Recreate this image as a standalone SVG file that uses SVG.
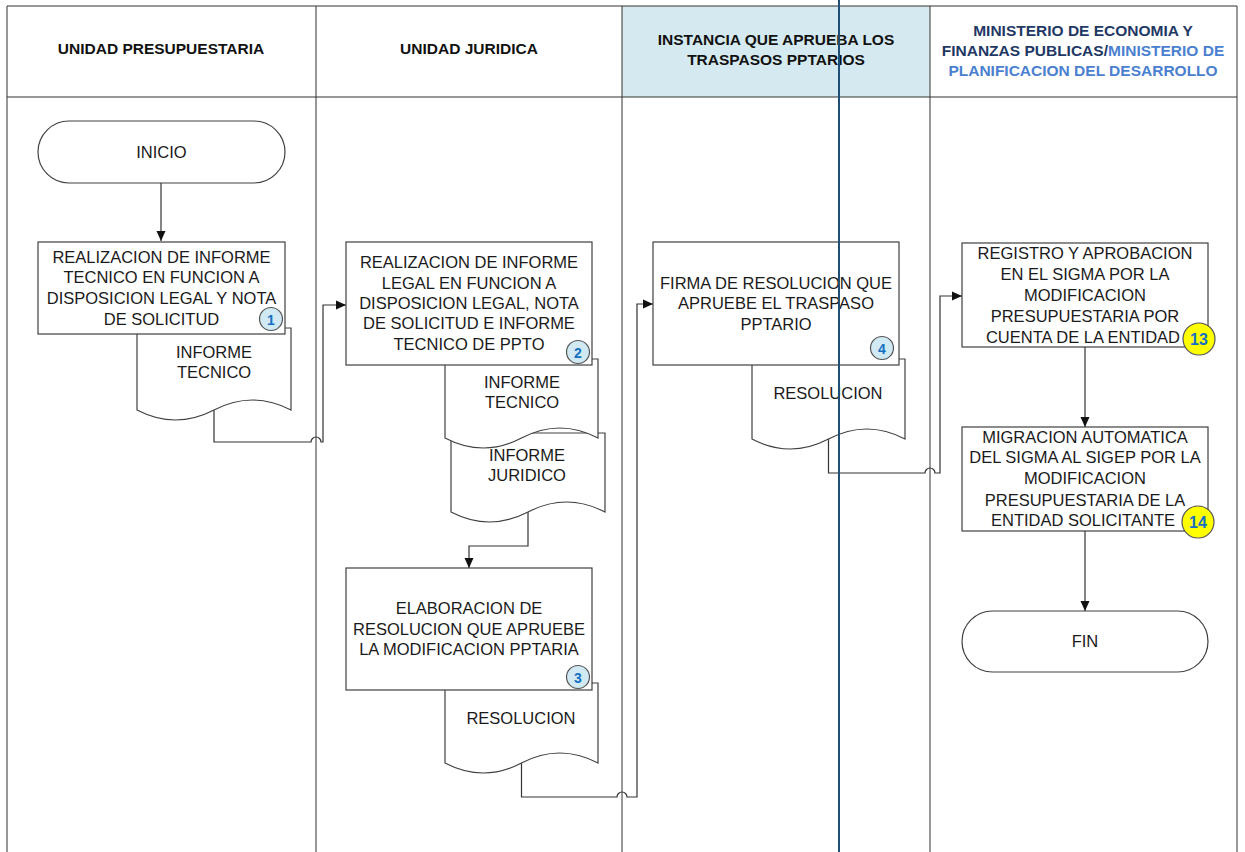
<svg xmlns="http://www.w3.org/2000/svg" width="1245" height="852" viewBox="0 0 1245 852">
<style>
.lane{fill:none;stroke:#333;stroke-width:1}
.box{fill:#fff;stroke:#404040;stroke-width:1.2}
.doc{fill:#fff;stroke:#404040;stroke-width:1.2}
.t{font-family:"Liberation Sans",Arial,sans-serif;font-size:16.5px;fill:#1a1a1a;text-anchor:middle}
.h{font-family:"Liberation Sans",Arial,sans-serif;font-size:15.5px;font-weight:bold;fill:#111;text-anchor:middle}
.conn{fill:none;stroke:#333;stroke-width:1.2}
.bb{fill:#d0e9f2;stroke:#555;stroke-width:1.2}
.by{fill:#ffff00;stroke:#555;stroke-width:1.2}
.bt{font-family:"Liberation Sans",Arial,sans-serif;font-weight:bold;fill:#1570c4;text-anchor:middle}
</style>
<defs>
<marker id="arr" markerWidth="10" markerHeight="10" refX="10" refY="5" orient="auto" markerUnits="userSpaceOnUse">
<path d="M0,0.5 L10,5 L0,9.5 Z" fill="#111"/>
</marker>
</defs>
<rect width="1245" height="852" fill="#fff"/>
<g id="lanes">
<rect x="622" y="6" width="308" height="91" fill="#d5eaf0"/>
<path class="lane" d="M7,6 H1237 M7,97 H1237 M7,6 V852 M316,6 V852 M622,6 V852 M930,6 V852 M1237,6 V852"/>
<text class="h" x="161" y="54">UNIDAD PRESUPUESTARIA</text>
<text class="h" x="469" y="54">UNIDAD JURIDICA</text>
<text class="h" x="776" y="45">INSTANCIA QUE APRUEBA LOS</text>
<text class="h" x="776" y="65">TRASPASOS PPTARIOS</text>
<text class="h" x="1083" y="36" style="fill:#1f3864">MINISTERIO DE ECONOMIA Y</text>
<text class="h" x="1083" y="56"><tspan style="fill:#1f3864">FINANZAS PUBLICAS/</tspan><tspan style="fill:#4a80cf">MINISTERIO DE</tspan></text>
<text class="h" x="1083" y="76" style="fill:#4a80cf">PLANIFICACION DEL DESARROLLO</text>
</g>
<g id="connectors">
<path class="conn" d="M161,183 V241" marker-end="url(#arr)"/>
<path class="conn" d="M214,410 V442 H311 A5,5 0 0 1 321,442 H323 V305 H346" marker-end="url(#arr)"/>
<path class="conn" d="M528,512 V546 H469 V568" marker-end="url(#arr)"/>
<path class="conn" d="M521.5,763 V797 H617 A5,5 0 0 1 627,797 H637 V304 H653" marker-end="url(#arr)"/>
<path class="conn" d="M828.5,439 V473 H925 A5,5 0 0 1 935,473 H940 V296 H962" marker-end="url(#arr)"/>
<path class="conn" d="M1085,347 V427" marker-end="url(#arr)"/>
<path class="conn" d="M1085,531 V611" marker-end="url(#arr)"/>
</g>
<g id="inicio">
<rect class="box" x="38" y="121" width="247" height="62" rx="31" ry="31"/>
<text class="t" x="161.5" y="158">INICIO</text>
</g>
<g id="doc1">
<path class="doc" d="M137,328 H291 V410 Q252.5,390 214,410 T137,410 Z"/>
<text class="t" x="214" y="358">INFORME</text>
<text class="t" x="214" y="378">TECNICO</text>
</g>
<g id="n1">
<rect class="box" x="38" y="242" width="247" height="92"/>
<text class="t" x="161.5" y="263">REALIZACION DE INFORME</text>
<text class="t" x="161.5" y="283">TECNICO EN FUNCION A</text>
<text class="t" x="161.5" y="304">DISPOSICION LEGAL Y NOTA</text>
<text class="t" x="161.5" y="325">DE SOLICITUD</text>
<circle class="bb" cx="271" cy="319" r="11.5"/>
<text class="bt" x="271" y="324.5" font-size="14">1</text>
</g>
<g id="doc2b">
<path class="doc" d="M451,433 H605 V512 Q566.5,492 528,512 T451,512 Z"/>
<text class="t" x="527" y="461">INFORME</text>
<text class="t" x="527" y="481">JURIDICO</text>
</g>
<g id="doc2a">
<path class="doc" d="M445,359 H598 V438 Q559.75,418 521.5,438 T445,438 Z"/>
<text class="t" x="522" y="388">INFORME</text>
<text class="t" x="522" y="408">TECNICO</text>
</g>
<g id="n2">
<rect class="box" x="346" y="242" width="246" height="123"/>
<text class="t" x="469" y="268">REALIZACION DE INFORME</text>
<text class="t" x="469" y="289">LEGAL EN FUNCION A</text>
<text class="t" x="469" y="309">DISPOSICION LEGAL, NOTA</text>
<text class="t" x="469" y="329">DE SOLICITUD E INFORME</text>
<text class="t" x="469" y="350">TECNICO DE PPTO</text>
<circle class="bb" cx="578" cy="352" r="11.5"/>
<text class="bt" x="578" y="357.5" font-size="14">2</text>
</g>
<g id="doc3">
<path class="doc" d="M445,683 H598 V763 Q559.75,743 521.5,763 T445,763 Z"/>
<text class="t" x="521" y="724">RESOLUCION</text>
</g>
<g id="n3">
<rect class="box" x="346" y="568" width="246" height="122"/>
<text class="t" x="469" y="614">ELABORACION DE</text>
<text class="t" x="469" y="635">RESOLUCION QUE APRUEBE</text>
<text class="t" x="469" y="655">LA MODIFICACION PPTARIA</text>
<circle class="bb" cx="578" cy="677" r="11.5"/>
<text class="bt" x="578" y="682.5" font-size="14">3</text>
</g>
<g id="doc4">
<path class="doc" d="M752,359 H905 V439 Q866.75,419 828.5,439 T752,439 Z"/>
<text class="t" x="828" y="399">RESOLUCION</text>
</g>
<g id="n4">
<rect class="box" x="653" y="242" width="246" height="123"/>
<text class="t" x="776" y="289">FIRMA DE RESOLUCION QUE</text>
<text class="t" x="776" y="309">APRUEBE EL TRASPASO</text>
<text class="t" x="776" y="330">PPTARIO</text>
<circle class="bb" cx="882" cy="348" r="11.5"/>
<text class="bt" x="882" y="353.5" font-size="14">4</text>
</g>
<g id="n13">
<rect class="box" x="962" y="243" width="246" height="104"/>
<text class="t" x="1085" y="259">REGISTRO Y APROBACION</text>
<text class="t" x="1085" y="280">EN EL SIGMA POR LA</text>
<text class="t" x="1085" y="301">MODIFICACION</text>
<text class="t" x="1085" y="322">PRESUPUESTARIA POR</text>
<text class="t" x="1083" y="343">CUENTA DE LA ENTIDAD</text>
<circle class="by" cx="1199" cy="339" r="16"/>
<text class="bt" x="1199" y="345" font-size="16">13</text>
</g>
<g id="n14">
<rect class="box" x="962" y="427" width="246" height="104"/>
<text class="t" x="1085" y="443">MIGRACION AUTOMATICA</text>
<text class="t" x="1085" y="463">DEL SIGMA AL SIGEP POR LA</text>
<text class="t" x="1085" y="484">MODIFICACION</text>
<text class="t" x="1085" y="506">PRESUPUESTARIA DE LA</text>
<text class="t" x="1083" y="526">ENTIDAD SOLICITANTE</text>
<circle class="by" cx="1198" cy="522" r="16"/>
<text class="bt" x="1198" y="528" font-size="16">14</text>
</g>
<g id="fin">
<rect class="box" x="962" y="611" width="246" height="61" rx="30.5" ry="30.5"/>
<text class="t" x="1085" y="647">FIN</text>
</g>
<g id="guide">
<line x1="839" y1="0" x2="839" y2="852" stroke="#1f4e79" stroke-width="2"/>
</g>
</svg>
